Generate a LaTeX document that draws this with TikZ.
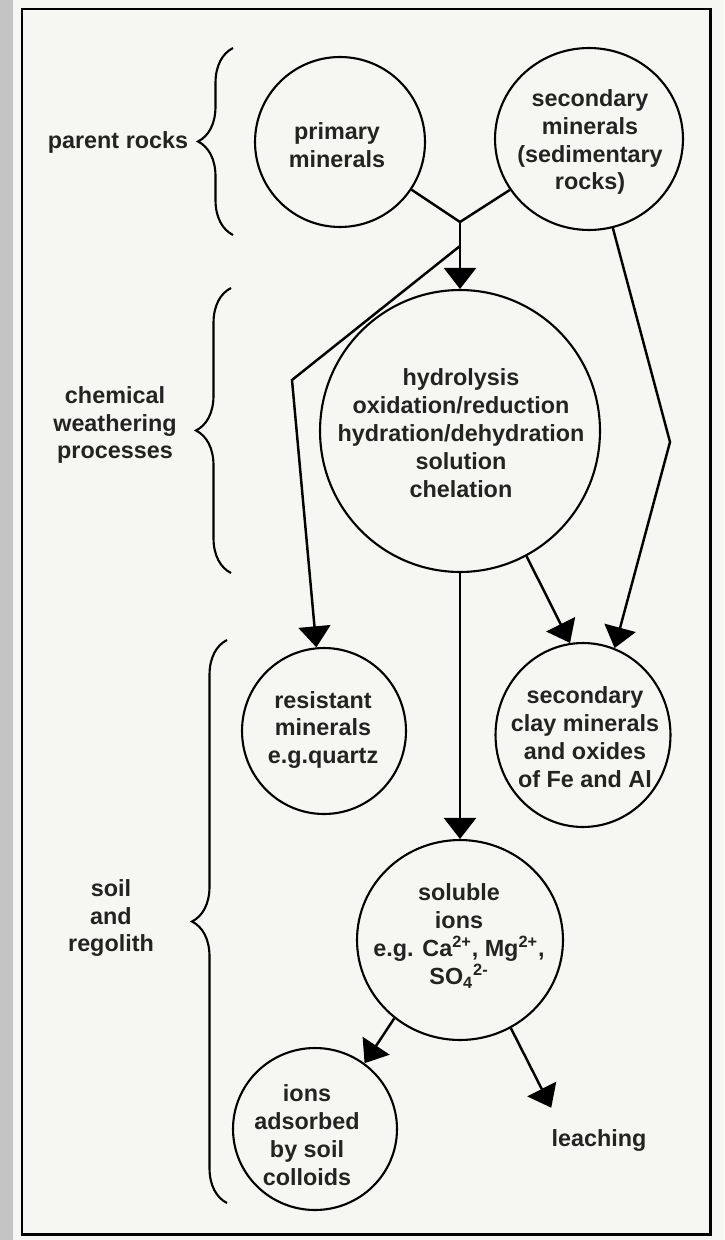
\documentclass[tikz,border=0pt]{standalone}
\usepackage{fontspec}
\setmainfont{Liberation Sans}
\usetikzlibrary{arrows.meta}
\usetikzlibrary{shapes.geometric}
\usetikzlibrary{decorations.pathreplacing}
\definecolor{pagegray}{RGB}{246,246,243}
\definecolor{edgegray}{RGB}{196,196,196}
\definecolor{inkgray}{RGB}{35,35,35}
\tikzset{
        treenode/.style={align=center,inner sep=0pt,text=inkgray,font=\fontsize{13.3pt}{15.9pt}\selectfont\bfseries},
        % Mineral and process circles
        node_circle/.style={ellipse, draw=black, line width=1.2pt, inner sep=0pt},
        % Arrows between circles
        edge_arrow/.style={-{Triangle[width=0.64cm,length=0.42cm]}, line width=1.4pt},
        % Plain joining lines
        edge_line/.style={line width=1.4pt},
        % Braces in front of the side labels
        side_brace/.style={decorate, decoration={brace, amplitude=0.7cm}, line width=1.2pt}
}

\begin{document}
\begin{tikzpicture}[x=0.02cm, y=-0.02cm]
    \useasboundingbox (0,0) rectangle (724,1240);
    \fill[pagegray] (0,0) rectangle (724,1240);
    \fill[edgegray] (0,0) rectangle (13,1240);
    \draw[line width=1.7pt] (22,9) rectangle (710,1234);

    % circles
    \node[node_circle, minimum width=3.4cm, minimum height=3.4cm] (prim) at (340,142) {};
    \node[node_circle, minimum width=3.76cm, minimum height=3.64cm] (sec) at (589,139) {};
    \node[node_circle, minimum width=5.6cm, minimum height=5.64cm] (hydro) at (460,431) {};
    \node[node_circle, minimum width=3.28cm, minimum height=3.32cm] (resist) at (324,731) {};
    \node[node_circle, minimum width=3.5cm, minimum height=3.68cm] (clay) at (583,735) {};
    \node[node_circle, minimum width=4.12cm, minimum height=4.0cm] (sol) at (460,940) {};
    \node[node_circle, minimum width=3.28cm, minimum height=3.24cm] (ions) at (315,1129) {};

    % texts in the circles
    \node[treenode] (prim_txt) at (337,145) {primary\\minerals};
    \node[treenode] (sec_txt) at (590,142) {secondary\\minerals\\(sedimentary\\rocks)};
    \node[treenode] (hydro_txt) at (461,433) {hydrolysis\\oxidation/reduction\\hydration/dehydration\\solution\\chelation};
    \node[treenode] (resist_txt) at (323,730) {resistant\\minerals\\e.g.quartz};
    \node[treenode] (clay_txt) at (585,737) {secondary\\clay minerals\\and oxides\\of Fe and Al};
    \node[treenode] (sol_txt) at (459,936) {soluble\\ions\\e.g. Ca\textsuperscript{2+}, Mg\textsuperscript{2+},\\SO\textsubscript{4}\textsuperscript{2-}};
    \node[treenode] (ions_txt) at (307,1135) {ions\\adsorbed\\by soil\\colloids};

    % side labels
    \node[treenode] (parent) at (118,142) {parent rocks};
    \node[treenode] (chem) at (115,425) {chemical\\weathering\\processes};
    \node[treenode] (soil) at (111,918) {soil\\and\\regolith};
    \node[treenode, inner ysep=0.42cm] (leach) at (599,1140) {leaching};

    % braces
    \draw[side_brace] (233,235) -- (233,48);
    \draw[side_brace] (231,573) -- (231,288);
    \draw[side_brace] (227,1203) -- (227,640);

    \coordinate (join) at (460,222);
    \coordinate (fork) at (460,246);
    \coordinate (bend_l) at (292,380);
    \coordinate (bend_r) at (670,442);

    \draw[edge_line] (prim) -- (join) -- (sec);
    \draw[edge_arrow] (join) -- (hydro);
    \draw[edge_arrow] (fork) -- (bend_l) -- (resist);
    \draw[edge_arrow] (sec.-75) -- (bend_r) -- (clay.70);
    \draw[edge_arrow] (hydro.-62) -- (clay.98);
    \draw[edge_arrow] (hydro) -- (sol);
    \draw[edge_arrow] (sol.-130) -- (ions.53);
    \draw[edge_arrow] (sol.-60) -- (leach.north west);
\end{tikzpicture}
\end{document}
